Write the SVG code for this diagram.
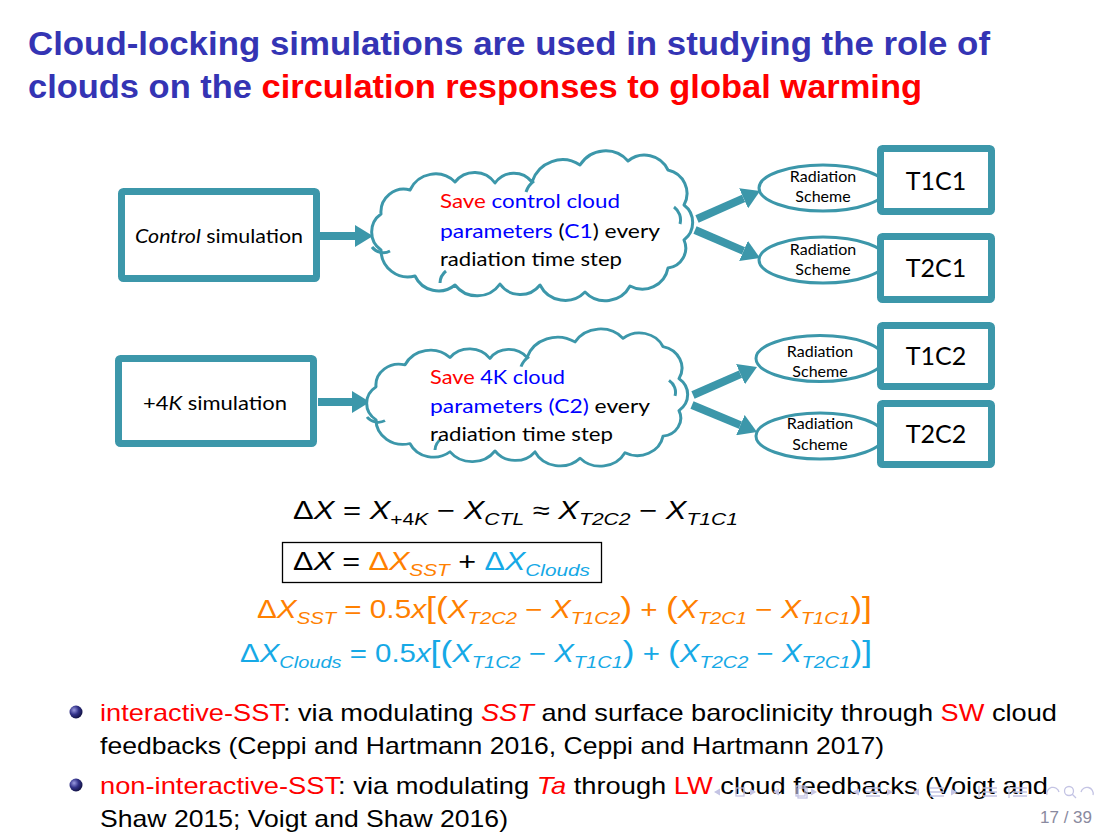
<svg xmlns="http://www.w3.org/2000/svg" width="1110" height="833" viewBox="0 0 1110 833">
  <style>
    .title { font-family: "Liberation Sans", Arial, sans-serif; font-weight: bold; font-size: 33px; fill: #3434b4; }
    .alert { fill: #ff0000; }
    .box { fill: #ffffff; stroke: #3c97aa; stroke-width: 7; }
    .cloud { fill: #ffffff; stroke: #3c97aa; stroke-width: 3; stroke-linejoin: round; }
    .inner { fill: none; stroke: #3c97aa; stroke-width: 3; }
    .ell { fill: #ffffff; stroke: #3c97aa; stroke-width: 3; }
    .conn { stroke: #3c97aa; stroke-width: 8; fill: none; }
    .dg { font-family: Lato, "Open Sans", sans-serif; fill: #000000; }
    .big { font-size: 20px; }
    .small { font-size: 16px; text-anchor: middle; }
    .tag { font-size: 25px; text-anchor: middle; }
    .blue { fill: #0000ff; }
    .m { font-family: "Liberation Sans", Arial, sans-serif; font-size: 25px; fill: #000000; }
    .i { font-style: italic; }
    .s { font-size: 17px; }
    .br { font-size: 30px; }
    .or { fill: #ff8000; }
    .cy { fill: #16a9e6; }
    .body { font-family: "Liberation Sans", Arial, sans-serif; font-size: 24px; fill: #000000; }
    .nav { fill: none; stroke: #c4c4e4; stroke-width: 1.3; }
    .navf { fill: #c4c4e4; }
  </style>
  <defs>
    <marker id="head" markerWidth="18" markerHeight="22" refX="0" refY="11" orient="auto" markerUnits="userSpaceOnUse">
      <path d="M0,0 L18,11 L0,22 z" fill="#3c97aa"/>
    </marker>
    <radialGradient id="ball" cx="0.35" cy="0.35" r="0.7">
      <stop offset="0" stop-color="#9a9ae0"/>
      <stop offset="0.5" stop-color="#33338a"/>
      <stop offset="1" stop-color="#101040"/>
    </radialGradient>
    <!-- cloud outline built from arcs between valley points -->
    <path id="cloudShape" d="M381,250 A22,22 0 0 1 381,214 A23,23 0 0 1 410,190 A28,28 0 0 1 455,182 A25,25 0 0 1 495,183 A23,23 0 0 1 532,182 A32,32 0 0 1 580,165 A30,30 0 0 1 628,161 A26,26 0 0 1 668,170 A24,24 0 0 1 684,205 A22,22 0 0 1 684,240 A20,20 0 0 1 668,268 A26,26 0 0 1 630,286 A28,28 0 0 1 585,292 A28,28 0 0 1 540,285 A25,25 0 0 1 500,284 A28,28 0 0 1 455,285 A26,26 0 0 1 415,276 A27,27 0 0 1 381,250 Z"/>
    <path id="cloudInner" d="M372,247 A14,14 0 0 0 390,251 M440,283 A16,16 0 0 1 446,271 M526,192 A22,22 0 0 1 534,181 M674,207 A16,16 0 0 1 680,224"/>
  </defs>

  <rect width="1110" height="833" fill="#ffffff"/>

  <!-- slide title -->
  <g id="title">
    <text class="title" x="28" y="55" textLength="962" lengthAdjust="spacingAndGlyphs">Cloud-locking simulations are used in studying the role of</text>
    <text class="title" x="28" y="98" textLength="894" lengthAdjust="spacingAndGlyphs">clouds on the <tspan class="alert">circulation responses to global warming</tspan></text>
  </g>

  <!-- connectors -->
  <g id="connectors">
    <line class="conn" x1="319" y1="236" x2="355" y2="236" marker-end="url(#head)"/>
    <line class="conn" x1="697" y1="219" x2="743.6" y2="198.3" marker-end="url(#head)"/>
    <line class="conn" x1="695" y1="230" x2="743.5" y2="250.9" marker-end="url(#head)"/>
    <line class="conn" x1="318" y1="402" x2="352" y2="402" marker-end="url(#head)"/>
    <line class="conn" x1="693" y1="395" x2="740.5" y2="374.2" marker-end="url(#head)"/>
    <line class="conn" x1="692" y1="405" x2="740.4" y2="425.1" marker-end="url(#head)"/>
  </g>

  <!-- control run -->
  <g id="control-sim">
    <rect class="box" x="121.5" y="191.5" width="195" height="87" rx="2"/>
    <text class="dg big" x="135" y="243" textLength="168" lengthAdjust="spacingAndGlyphs"><tspan class="i">Control</tspan> simulation</text>
  </g>
  <g id="cloud-c1">
    <use href="#cloudShape" class="cloud"/>
    <use href="#cloudInner" class="inner"/>
    <text class="dg big" x="440" y="208" textLength="180" lengthAdjust="spacingAndGlyphs"><tspan class="alert">Save</tspan> <tspan class="blue">control cloud</tspan></text>
    <text class="dg big" x="440" y="238" textLength="220" lengthAdjust="spacingAndGlyphs"><tspan class="blue">parameters</tspan> (<tspan class="blue">C1</tspan>) every</text>
    <text class="dg big" x="440" y="266" textLength="182" lengthAdjust="spacingAndGlyphs">radiation time step</text>
  </g>
  <g id="rad-t1c1">
    <ellipse class="ell" cx="823" cy="188" rx="64" ry="23"/>
    <text class="dg small" x="823" y="182">Radiation</text>
    <text class="dg small" x="823" y="202">Scheme</text>
  </g>
  <g id="rad-t2c1">
    <ellipse class="ell" cx="823" cy="260" rx="64" ry="23"/>
    <text class="dg small" x="823" y="255">Radiation</text>
    <text class="dg small" x="823" y="275">Scheme</text>
  </g>
  <g id="t1c1">
    <rect class="box" x="880.5" y="148.5" width="111" height="63" rx="2"/>
    <text class="dg tag" x="936" y="190">T1C1</text>
  </g>
  <g id="t2c1">
    <rect class="box" x="880.5" y="236.5" width="111" height="63" rx="2"/>
    <text class="dg tag" x="936" y="277">T2C1</text>
  </g>

  <!-- warmed run -->
  <g id="warm-sim">
    <rect class="box" x="118.5" y="358.5" width="195" height="85" rx="2"/>
    <text class="dg big" x="143" y="410" textLength="144" lengthAdjust="spacingAndGlyphs">+4<tspan class="i">K</tspan> simulation</text>
  </g>
  <g id="cloud-c2">
    <g transform="matrix(1 0 0 0.915 -5 191)">
      <use href="#cloudShape" class="cloud"/>
      <use href="#cloudInner" class="inner"/>
    </g>
    <text class="dg big" x="430" y="384" textLength="135" lengthAdjust="spacingAndGlyphs"><tspan class="alert">Save</tspan> <tspan class="blue">4K cloud</tspan></text>
    <text class="dg big" x="430" y="413" textLength="220" lengthAdjust="spacingAndGlyphs"><tspan class="blue">parameters (C2)</tspan> every</text>
    <text class="dg big" x="430" y="441" textLength="183" lengthAdjust="spacingAndGlyphs">radiation time step</text>
  </g>
  <g id="rad-t1c2">
    <ellipse class="ell" cx="820" cy="358.5" rx="64" ry="23"/>
    <text class="dg small" x="820" y="357">Radiation</text>
    <text class="dg small" x="820" y="377">Scheme</text>
  </g>
  <g id="rad-t2c2">
    <ellipse class="ell" cx="820" cy="436" rx="64" ry="23"/>
    <text class="dg small" x="820" y="429">Radiation</text>
    <text class="dg small" x="820" y="450">Scheme</text>
  </g>
  <g id="t1c2">
    <rect class="box" x="880.5" y="325.5" width="111" height="61" rx="2"/>
    <text class="dg tag" x="936" y="365">T1C2</text>
  </g>
  <g id="t2c2">
    <rect class="box" x="880.5" y="403.5" width="111" height="61" rx="2"/>
    <text class="dg tag" x="936" y="443">T2C2</text>
  </g>

  <!-- equations -->
  <g id="equations">
    <text class="m" x="293" y="519" textLength="445" lengthAdjust="spacingAndGlyphs">Δ<tspan class="i">X</tspan> = <tspan class="i">X</tspan><tspan class="s" dy="6">+4<tspan class="i">K</tspan></tspan><tspan dy="-6"> − </tspan><tspan class="i">X</tspan><tspan class="s i" dy="6">CTL</tspan><tspan dy="-6"> ≈ </tspan><tspan class="i">X</tspan><tspan class="s i" dy="6">T2C2</tspan><tspan dy="-6"> − </tspan><tspan class="i">X</tspan><tspan class="s i" dy="6">T1C1</tspan></text>
    <rect x="282.5" y="542.5" width="319" height="40" fill="none" stroke="#000000" stroke-width="1.3"/>
    <text class="m" x="293" y="570" textLength="297" lengthAdjust="spacingAndGlyphs">Δ<tspan class="i">X</tspan> = <tspan class="or">Δ<tspan class="i">X</tspan><tspan class="s i" dy="6">SST</tspan></tspan><tspan dy="-6"> + </tspan><tspan class="cy">Δ<tspan class="i">X</tspan><tspan class="s i" dy="6">Clouds</tspan></tspan></text>
    <text class="m or" x="257" y="618" textLength="615" lengthAdjust="spacingAndGlyphs">Δ<tspan class="i">X</tspan><tspan class="s i" dy="6">SST</tspan><tspan dy="-6"> = 0.5</tspan><tspan class="i">x</tspan><tspan class="br">[(</tspan><tspan class="i">X</tspan><tspan class="s i" dy="6">T2C2</tspan><tspan dy="-6"> − </tspan><tspan class="i">X</tspan><tspan class="s i" dy="6">T1C2</tspan><tspan class="br" dy="-6">)</tspan> + <tspan class="br">(</tspan><tspan class="i">X</tspan><tspan class="s i" dy="6">T2C1</tspan><tspan dy="-6"> − </tspan><tspan class="i">X</tspan><tspan class="s i" dy="6">T1C1</tspan><tspan class="br" dy="-6">)]</tspan></text>
    <text class="m cy" x="240" y="662" textLength="632" lengthAdjust="spacingAndGlyphs">Δ<tspan class="i">X</tspan><tspan class="s i" dy="6">Clouds</tspan><tspan dy="-6"> = 0.5</tspan><tspan class="i">x</tspan><tspan class="br">[(</tspan><tspan class="i">X</tspan><tspan class="s i" dy="6">T1C2</tspan><tspan dy="-6"> − </tspan><tspan class="i">X</tspan><tspan class="s i" dy="6">T1C1</tspan><tspan class="br" dy="-6">)</tspan> + <tspan class="br">(</tspan><tspan class="i">X</tspan><tspan class="s i" dy="6">T2C2</tspan><tspan dy="-6"> − </tspan><tspan class="i">X</tspan><tspan class="s i" dy="6">T2C1</tspan><tspan class="br" dy="-6">)]</tspan></text>
  </g>

  <!-- bullet list -->
  <g id="bullets">
    <circle cx="76" cy="712" r="6.5" fill="url(#ball)"/>
    <circle cx="76" cy="785" r="6.5" fill="url(#ball)"/>
    <text class="body" x="100" y="721" textLength="957" lengthAdjust="spacingAndGlyphs"><tspan class="alert">interactive-SST</tspan>: via modulating <tspan class="alert i">SST</tspan> and surface baroclinicity through <tspan class="alert">SW</tspan> cloud</text>
    <text class="body" x="100" y="754" textLength="784" lengthAdjust="spacingAndGlyphs">feedbacks (Ceppi and Hartmann 2016, Ceppi and Hartmann 2017)</text>
    <text class="body" x="100" y="794" textLength="948" lengthAdjust="spacingAndGlyphs"><tspan class="alert">non-interactive-SST</tspan>: via modulating <tspan class="alert i">Ta</tspan> through <tspan class="alert">LW</tspan> cloud feedbacks (Voigt and</text>
    <text class="body" x="100" y="827" textLength="408" lengthAdjust="spacingAndGlyphs">Shaw 2015; Voigt and Shaw 2016)</text>
  </g>

  <!-- navigation symbols and page number -->
  <g id="navigation">
    <path class="navf" d="M714,792 L720,788.5 L720,795.5 Z"/>
    <rect class="nav" x="736" y="788" width="8" height="8"/>
    <path class="navf" d="M756,792 L750,788.5 L750,795.5 Z"/>
    <path class="navf" d="M773,792 L779,788.5 L779,795.5 Z"/>
    <rect class="nav" x="796" y="786" width="9" height="10"/>
    <rect class="nav" x="798" y="788" width="9" height="10"/>
    <path class="navf" d="M817,792 L811,788.5 L811,795.5 Z"/>
    <path class="navf" d="M853,792 L859,788.5 L859,795.5 Z"/>
    <path class="nav" d="M866,788 H880 M866,792 H880 M866,796 H880"/>
    <path class="navf" d="M893,792 L887,788.5 L887,795.5 Z"/>
    <path class="navf" d="M913,792 L919,788.5 L919,795.5 Z"/>
    <path class="nav" d="M930,788 H944 M930,792 H944 M930,796 H944"/>
    <path class="navf" d="M957,792 L951,788.5 L951,795.5 Z"/>
    <path class="nav" d="M983,788 H997 M983,792 H997 M983,796 H997 M979,786 V798"/>
    <path class="nav" d="M1013,788 H1027 M1013,792 H1027 M1013,796 H1027 M1009,786 V798"/>
    <path class="nav" d="M1047,795 A6,6 0 1 1 1059,792"/>
    <circle class="nav" cx="1069" cy="791" r="4.5"/>
    <path class="nav" d="M1072,794 L1076,798"/>
    <path class="nav" d="M1093,795 A6,6 0 1 0 1081,792"/>
    <text x="1092" y="823" text-anchor="end" font-family="'Liberation Sans', Arial, sans-serif" font-size="17" fill="#8a8aa0">17 / 39</text>
  </g>
</svg>
